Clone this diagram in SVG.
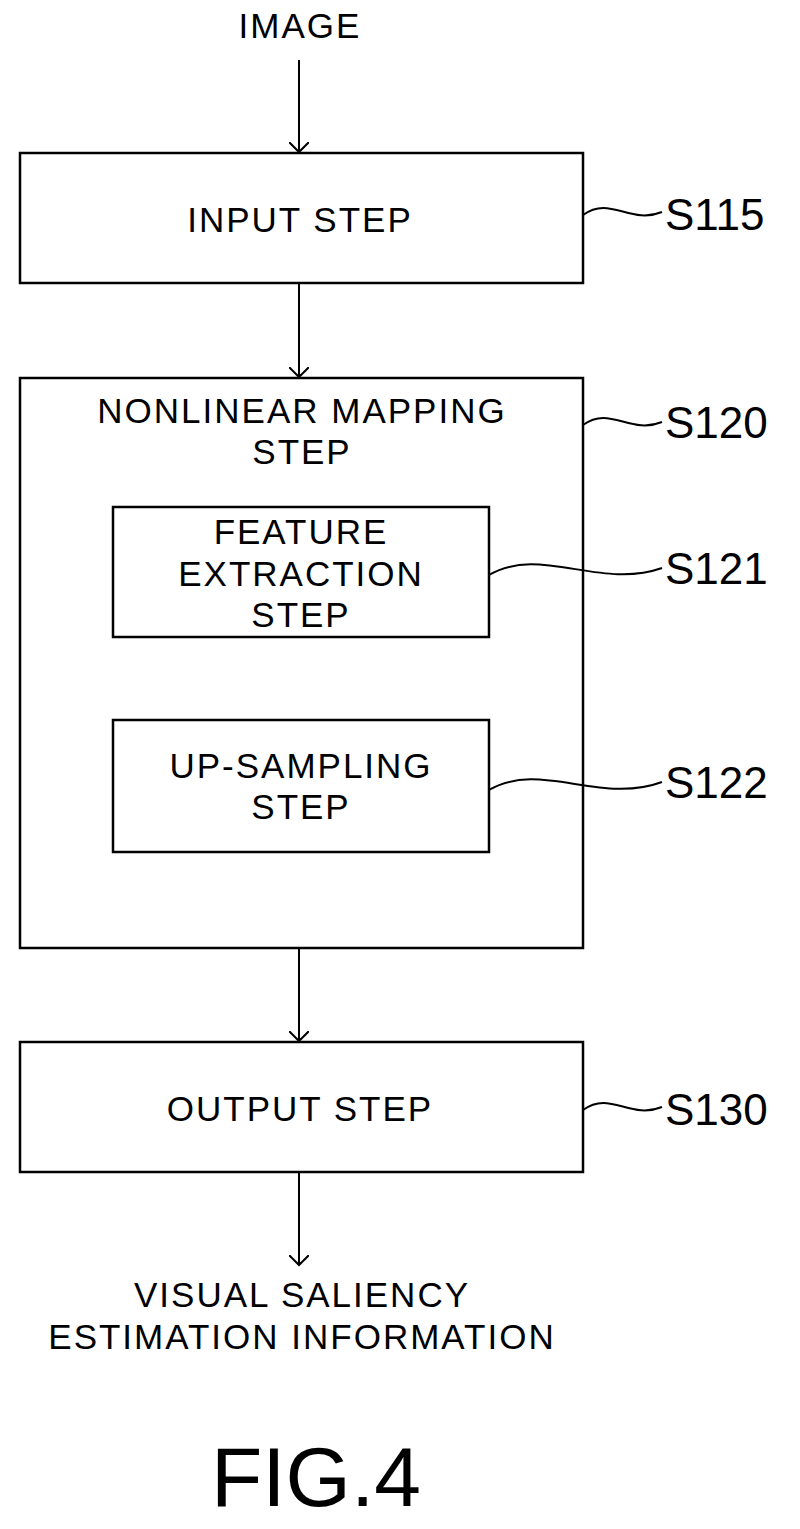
<svg xmlns="http://www.w3.org/2000/svg" width="800" height="1529" viewBox="0 0 800 1529">
<style>
.b{fill:#fff;stroke:#000;stroke-width:2.5}
.t{font-family:"Liberation Sans",Arial,sans-serif;font-size:35px;text-anchor:middle;fill:#000;letter-spacing:2px}
.l{font-family:"Liberation Sans",Arial,sans-serif;font-size:44px;fill:#000}
.c{fill:none;stroke:#000;stroke-width:2}
</style>
<defs><marker id="a" markerWidth="12" markerHeight="20" refX="10" refY="10" orient="auto" markerUnits="userSpaceOnUse"><path d="M0,0 L10,10 L0,20" fill="none" stroke="#000" stroke-width="2"/></marker></defs>
<text class="t" x="300" y="38">IMAGE</text>
<g id="n1"><rect class="b" x="20" y="153" width="563" height="130"/><text class="t" x="300" y="232">INPUT STEP</text></g>
<g id="n2"><rect class="b" x="20" y="378" width="563" height="570"/><text class="t" x="302" y="423">NONLINEAR MAPPING</text><text class="t" x="302" y="464">STEP</text></g>
<g id="n3"><rect class="b" x="113" y="507" width="376" height="130"/><text class="t" x="301" y="544">FEATURE</text><text class="t" x="301" y="586">EXTRACTION</text><text class="t" x="301" y="627">STEP</text></g>
<g id="n4"><rect class="b" x="113" y="720" width="376" height="132"/><text class="t" x="301" y="778">UP-SAMPLING</text><text class="t" x="301" y="819">STEP</text></g>
<g id="n5"><rect class="b" x="20" y="1042" width="563" height="130"/><text class="t" x="300" y="1121">OUTPUT STEP</text></g>
<text class="t" x="302" y="1307">VISUAL SALIENCY</text>
<text class="t" x="302" y="1349">ESTIMATION INFORMATION</text>
<g id="conn">
<line class="c" x1="299" y1="60" x2="299" y2="152" marker-end="url(#a)"/>
<line class="c" x1="299" y1="284" x2="299" y2="377" marker-end="url(#a)"/>
<line class="c" x1="299" y1="949" x2="299" y2="1041" marker-end="url(#a)"/>
<line class="c" x1="299" y1="1173" x2="299" y2="1265" marker-end="url(#a)"/>
<path class="c" d="M583,215 C610,195 630,225 662,212"/>
<path class="c" d="M583,425 C610,405 630,435 662,422"/>
<path class="c" d="M489,575 C540,545 600,590 662,568"/>
<path class="c" d="M489,790 C540,760 600,805 662,782"/>
<path class="c" d="M583,1110 C610,1090 630,1120 662,1107"/>
</g>
<text class="l" x="665" y="230">S115</text>
<text class="l" x="665" y="438">S120</text>
<text class="l" x="665" y="584">S121</text>
<text class="l" x="665" y="798">S122</text>
<text class="l" x="665" y="1125">S130</text>
<text x="316" y="1506" font-family="Liberation Sans,Arial,sans-serif" font-size="84" text-anchor="middle">FIG.4</text>
</svg>
